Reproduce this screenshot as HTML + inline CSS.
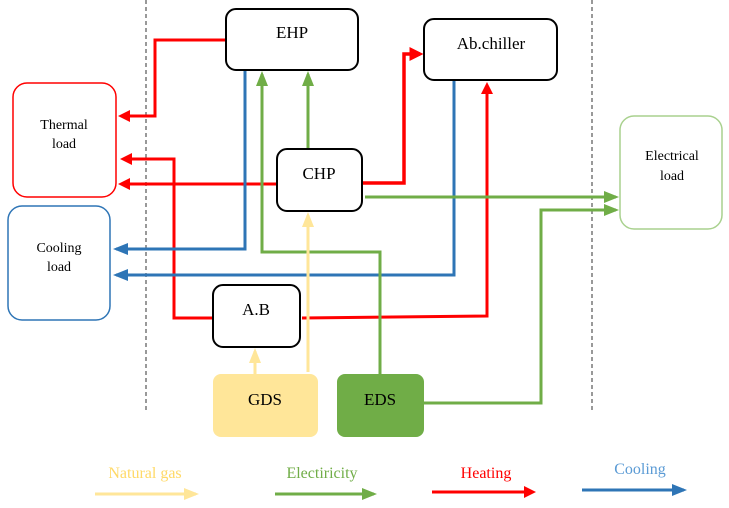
<!DOCTYPE html>
<html><head><style>body{margin:0;background:#fff}svg{display:block}</style></head><body>
<svg width="729" height="508" viewBox="0 0 729 508" xmlns="http://www.w3.org/2000/svg" font-family="Liberation Serif, serif">
<defs>
<marker id="r" markerWidth="4" markerHeight="4" refX="3" refY="2" orient="auto" markerUnits="strokeWidth"><path d="M0,0L4,2L0,4z" fill="#ff0000"/></marker>
<marker id="b" markerWidth="5" markerHeight="4" refX="4" refY="2" orient="auto" markerUnits="strokeWidth"><path d="M0,0L5,2L0,4z" fill="#2e75b6"/></marker>
<marker id="g" markerWidth="5" markerHeight="4" refX="4" refY="2" orient="auto" markerUnits="strokeWidth"><path d="M0,0L5,2L0,4z" fill="#70ad47"/></marker>
<marker id="y" markerWidth="5" markerHeight="4" refX="4" refY="2" orient="auto" markerUnits="strokeWidth"><path d="M0,0L5,2L0,4z" fill="#ffe699"/></marker>
</defs>
<line x1="146" y1="0" x2="146" y2="410" stroke="#333" stroke-width="1" stroke-dasharray="4,3"/>
<line x1="592" y1="0" x2="592" y2="410" stroke="#333" stroke-width="1" stroke-dasharray="4,3"/>
<g fill="none" stroke-width="3">
<path d="M226,40H155V116H121" stroke="#ff0000" marker-end="url(#r)"/>
<path d="M213,318H174V159H123" stroke="#ff0000" marker-end="url(#r)"/>
<path d="M277,184H121" stroke="#ff0000" marker-end="url(#r)"/>
<path d="M362,183H404V54H420" stroke="#ff0000" stroke-width="3.5" marker-end="url(#r)"/>
<path d="M302,318L487,316V85" stroke="#ff0000" marker-end="url(#r)"/>
<path d="M245,71V249H116" stroke="#2e75b6" marker-end="url(#b)"/>
<path d="M454,80V275H116" stroke="#2e75b6" marker-end="url(#b)"/>
<path d="M380,374V252H262V74" stroke="#70ad47" marker-end="url(#g)"/>
<path d="M308,150V74" stroke="#70ad47" marker-end="url(#g)"/>
<path d="M365,197H616" stroke="#70ad47" marker-end="url(#g)"/>
<path d="M424,403H541V210H616" stroke="#70ad47" marker-end="url(#g)"/>
<path d="M308,372V215" stroke="#ffe699" marker-end="url(#y)"/>
<path d="M255,374V351" stroke="#ffe699" marker-end="url(#y)"/>
<path d="M95,494H196" stroke="#ffe699" marker-end="url(#y)"/>
<path d="M275,494H374" stroke="#70ad47" marker-end="url(#g)"/>
<path d="M432,492H533" stroke="#ff0000" marker-end="url(#r)"/>
<path d="M582,490H684" stroke="#2e75b6" marker-end="url(#b)"/>
</g>
<g stroke-width="2">
<rect x="226" y="9" width="132" height="61" rx="10" fill="#fff" stroke="#000"/>
<rect x="424" y="19" width="133" height="61" rx="10" fill="#fff" stroke="#000"/>
<rect x="277" y="149" width="85" height="62" rx="10" fill="#fff" stroke="#000"/>
<rect x="213" y="285" width="87" height="62" rx="10" fill="#fff" stroke="#000"/>
<rect x="13" y="83" width="103" height="114" rx="14" fill="#fff" stroke="#ff0000" stroke-width="1.5"/>
<rect x="8" y="206" width="102" height="114" rx="14" fill="#fff" stroke="#2e75b6" stroke-width="1.5"/>
<rect x="620" y="116" width="102" height="113" rx="14" fill="#fff" stroke="#a9d18e" stroke-width="1.5"/>
</g>
<rect x="213" y="374" width="105" height="63" rx="8" fill="#ffe699"/>
<rect x="337" y="374" width="87" height="63" rx="8" fill="#70ad47"/>
<g text-anchor="middle" fill="#000">
<text x="292" y="38" font-size="17">EHP</text>
<text x="491" y="49" font-size="17">Ab.chiller</text>
<text x="319" y="179" font-size="17">CHP</text>
<text x="256" y="315" font-size="17">A.B</text>
<text x="265" y="405" font-size="17">GDS</text>
<text x="380" y="405" font-size="17">EDS</text>
<text x="64" y="129" font-size="14">Thermal</text>
<text x="64" y="148" font-size="14">load</text>
<text x="59" y="252" font-size="14">Cooling</text>
<text x="59" y="271" font-size="14">load</text>
<text x="672" y="160" font-size="14">Electrical</text>
<text x="672" y="180" font-size="14">load</text>
<text x="145" y="478" font-size="16" fill="#ffd966">Natural gas</text>
<text x="322" y="478" font-size="16" fill="#70ad47">Electiricity</text>
<text x="486" y="478" font-size="16" fill="#ff0000">Heating</text>
<text x="640" y="474" font-size="16" fill="#5b9bd5">Cooling</text>
</g>
</svg>
</body></html>
